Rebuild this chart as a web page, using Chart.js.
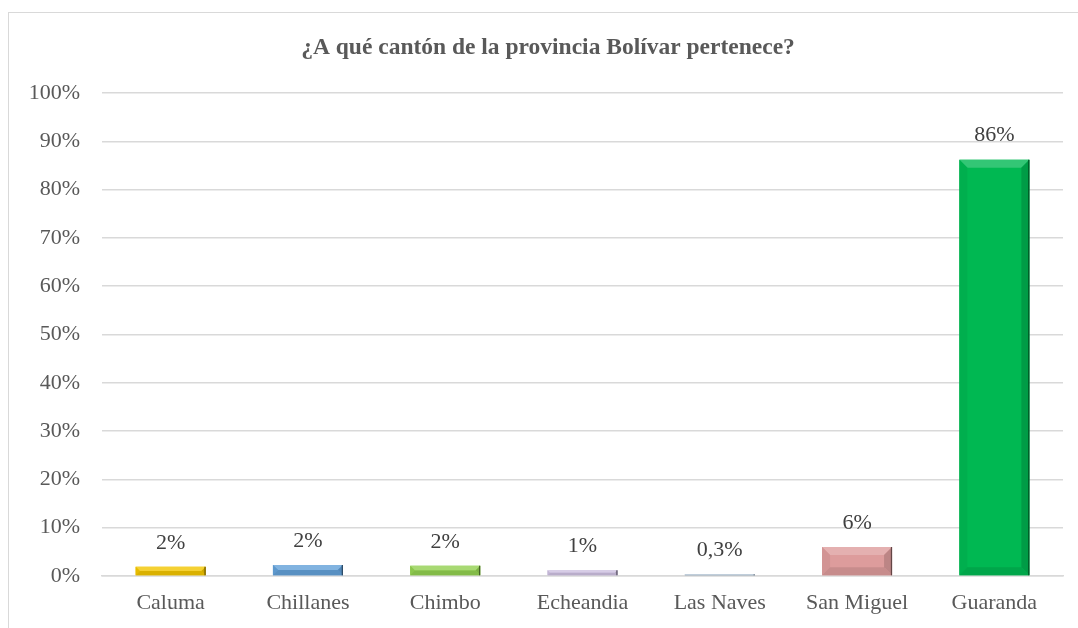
<!DOCTYPE html>
<html>
<head>
<meta charset="utf-8">
<script src="https://cdn.jsdelivr.net/npm/chart.js@4/dist/chart.umd.min.js"></script>
<style>
  html, body { margin: 0; padding: 0; background: #fff; }
  #wrap { position: relative; width: 1078px; height: 628px; overflow: hidden; }
  #frame { position: absolute; left: 8px; top: 12px; width: 1080px; height: 630px;
           border-left: 1.5px solid #d9d9d9; border-top: 1.5px solid #d9d9d9; }
  #c { position: absolute; left: 0; top: 0; }
</style>
</head>
<body>
<div id="wrap">
  <div id="frame"></div>
  <canvas id="c" width="1078" height="628"></canvas>
</div>
<script>
const cantones = ['Caluma', 'Chillanes', 'Chimbo', 'Echeandia', 'Las Naves', 'San Miguel', 'Guaranda'];
const porcentajes = [1.9, 2.3, 2.1, 1.2, 0.3, 6.0, 86.2];
const etiquetas = ['2%', '2%', '2%', '1%', '0,3%', '6%', '86%'];
const colores = ['#f2c500', '#62a0d8', '#92d050', '#cdc0e0', '#9fb4c8', '#dd9c9c', '#00b852'];
const titulo = '¿A qué cantón de la provincia Bolívar pertenece?';

const serif = '"Liberation Serif", "Times New Roman", serif';

function shade(hex, amt) {
    const n = parseInt(hex.slice(1), 16);
    let r = (n >> 16) & 255, g = (n >> 8) & 255, b = n & 255;
    if (amt > 0) { r += (255 - r) * amt; g += (255 - g) * amt; b += (255 - b) * amt; }
    else { r *= 1 + amt; g *= 1 + amt; b *= 1 + amt; }
    return `rgb(${Math.round(r)},${Math.round(g)},${Math.round(b)})`;
}

// title is centred on the chart frame, not on the canvas
const titlePlugin = {
    id: 'frameTitle',
    afterDraw(chart) {
        const ctx = chart.ctx;
        ctx.save();
        ctx.font = 'bold 23.5px ' + serif;
        ctx.fillStyle = '#595959';
        ctx.textAlign = 'center';
        ctx.textBaseline = 'middle';
        ctx.fillText(titulo, 548, 48);
        ctx.restore();
    }
};

// bevel look + value labels
const bevelPlugin = {
    id: 'bevel',
    afterDatasetsDraw(chart) {
        const ctx = chart.ctx;
        const meta = chart.getDatasetMeta(0);
        meta.data.forEach((bar, i) => {
            const left = bar.x - bar.width / 2, right = bar.x + bar.width / 2;
            const top = bar.y, bottom = bar.base;
            const h = bottom - top;
            const d = Math.min(8, h / 2);
            const c = colores[i];
            ctx.save();
            ctx.fillStyle = shade(c, 0.2);
            ctx.beginPath();
            ctx.moveTo(left, top); ctx.lineTo(right, top);
            ctx.lineTo(right - d, top + d); ctx.lineTo(left + d, top + d);
            ctx.closePath(); ctx.fill();
            ctx.fillStyle = shade(c, -0.15);
            ctx.beginPath();
            ctx.moveTo(right, top); ctx.lineTo(right, bottom);
            ctx.lineTo(right - d, bottom - d); ctx.lineTo(right - d, top + d);
            ctx.closePath(); ctx.fill();
            ctx.fillStyle = shade(c, -0.05);
            ctx.beginPath();
            ctx.moveTo(left, top); ctx.lineTo(left, bottom);
            ctx.lineTo(left + d, bottom - d); ctx.lineTo(left + d, top + d);
            ctx.closePath(); ctx.fill();
            ctx.fillStyle = shade(c, -0.1);
            ctx.beginPath();
            ctx.moveTo(left, bottom); ctx.lineTo(right, bottom);
            ctx.lineTo(right - d, bottom - d); ctx.lineTo(left + d, bottom - d);
            ctx.closePath(); ctx.fill();
            // thin dark right edge
            ctx.strokeStyle = shade(c, -0.55);
            ctx.lineWidth = 1.2;
            ctx.beginPath();
            ctx.moveTo(right - 0.6, top); ctx.lineTo(right - 0.6, bottom);
            ctx.stroke();
            ctx.restore();

            ctx.save();
            ctx.font = '22px ' + serif;
            ctx.fillStyle = '#404040';
            ctx.textAlign = 'center';
            ctx.textBaseline = 'middle';
            ctx.fillText(etiquetas[i], bar.x, top - 24);
            ctx.restore();
        });
    }
};

new Chart(document.getElementById('c'), {
    type: 'bar',
    data: {
        labels: cantones,
        datasets: [{
            data: porcentajes,
            backgroundColor: colores,
            borderWidth: 0,
            categoryPercentage: 1,
            barPercentage: 0.51
        }]
    },
    options: {
        responsive: false,
        animation: false,
        events: [],
        layout: { padding: { top: 93, right: 15, bottom: 0, left: 0 } },
        plugins: {
            legend: { display: false },
            tooltip: { enabled: false },
            title: { display: false }
        },
        scales: {
            y: {
                min: 0,
                max: 100,
                ticks: {
                    stepSize: 10,
                    padding: 22,
                    color: '#595959',
                    font: { family: serif, size: 22 },
                    callback: v => v + '%'
                },
                grid: { color: '#d9d9d9', lineWidth: 1.5, drawTicks: false },
                border: { display: false },
                afterFit(scale) { scale.width = 102; }
            },
            x: {
                ticks: {
                    padding: 14,
                    color: '#595959',
                    font: { family: serif, size: 22 }
                },
                grid: { display: false, drawTicks: false },
                border: { color: '#d9d9d9', width: 1.5 },
                afterFit(scale) { scale.height = 52; }
            }
        }
    },
    plugins: [bevelPlugin, titlePlugin]
});
</script>
</body>
</html>
